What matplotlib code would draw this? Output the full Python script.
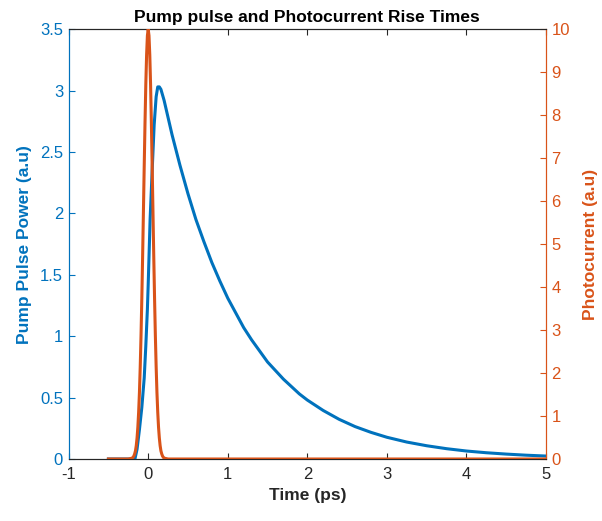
import matplotlib
matplotlib.use("Agg")
import matplotlib.pyplot as plt

plt.rcParams['font.family'] = ['Liberation Sans', 'DejaVu Sans']

# Blue series (left axis): Pump pulse power (a.u)
t_blue = [-0.5, -0.2, -0.165, -0.14, -0.11, -0.08, -0.05, -0.03, -0.01, 0.0, 0.024, 0.05,
          0.075, 0.1, 0.12, 0.14, 0.16, 0.2, 0.3, 0.4, 0.5, 0.6, 0.7, 0.8, 0.9,
          1.0, 1.1, 1.2, 1.3, 1.4, 1.5, 1.6, 1.7, 1.8, 1.9, 2.0, 2.2, 2.4, 2.6,
          2.8, 3.0, 3.25, 3.5, 3.75, 4.0, 4.25, 4.5, 4.75, 5.0]
p_blue = [0.0, 0.0, 0.005, 0.08, 0.24, 0.42, 0.66, 0.92, 1.22, 1.42, 1.95, 2.35,
          2.72, 2.95, 3.03, 3.03, 3.01, 2.92, 2.64, 2.39, 2.16, 1.95, 1.77, 1.60, 1.45,
          1.31, 1.19, 1.07, 0.97, 0.88, 0.79, 0.72, 0.65, 0.59, 0.53, 0.48, 0.395, 0.323, 0.264,
          0.217, 0.177, 0.138, 0.108, 0.084, 0.065, 0.051, 0.040, 0.031, 0.024]

# Orange series (right axis): Photocurrent (a.u)
t_orange = [-0.5, -0.25, -0.2, -0.19, -0.18, -0.17, -0.16, -0.15, -0.14, -0.13, -0.12,
            -0.11, -0.1, -0.09, -0.08, -0.07, -0.06, -0.05, -0.04, -0.03, -0.02, -0.01,
            0.0, 0.01, 0.02, 0.03, 0.04, 0.05, 0.06, 0.07, 0.08, 0.09, 0.1, 0.11, 0.12,
            0.13, 0.14, 0.15, 0.16, 0.17, 0.18, 0.19, 0.2, 0.25, 5.0]
c_orange = [0.0, 0.0, 0.02, 0.04, 0.07, 0.12, 0.19, 0.31, 0.49, 0.74, 1.09,
            1.55, 2.15, 2.88, 3.74, 4.71, 5.75, 6.81, 7.82, 8.71, 9.40, 9.85,
            10.0, 9.85, 9.40, 8.71, 7.82, 6.81, 5.75, 4.71, 3.74, 2.88, 2.15, 1.55, 1.09,
            0.74, 0.49, 0.31, 0.19, 0.12, 0.07, 0.04, 0.02, 0.0, 0.0]

x_ticks = [-1, 0, 1, 2, 3, 4, 5]
left_ticks = [0, 0.5, 1, 1.5, 2, 2.5, 3, 3.5]
left_labels = ['0', '0.5', '1', '1.5', '2', '2.5', '3', '3.5']
right_ticks = list(range(0, 11))

BLUE = '#0072BD'
ORANGE = '#D95319'
GRAY = '#262626'

fig = plt.figure(figsize=(6.02, 5.21), dpi=100)
ax = fig.add_axes([0.114, 0.119, 0.793, 0.825])
ax2 = ax.twinx()

ax.plot(t_blue, p_blue, color=BLUE, lw=2.2, zorder=3)
ax2.plot(t_orange, c_orange, color=ORANGE, lw=2.2, zorder=3)

ax.set_xlim(-1, 5)
ax.set_ylim(0, 3.5)
ax2.set_ylim(0, 10)

ax.set_xticks(x_ticks)
ax.set_xticklabels([str(v) for v in x_ticks])
ax.set_yticks(left_ticks)
ax.set_yticklabels(left_labels)
ax2.set_yticks(right_ticks)
ax2.set_yticklabels([str(v) for v in right_ticks])

fs = 12
ax.tick_params(axis='x', direction='in', length=4, colors=GRAY, labelsize=fs, top=True, pad=6)
ax.tick_params(axis='y', direction='in', length=4, colors=BLUE, labelsize=fs, pad=4)
ax2.tick_params(axis='y', direction='in', length=4, colors=ORANGE, labelsize=fs, pad=4)

for a in (ax, ax2):
    a.spines['top'].set_color(GRAY)
    a.spines['bottom'].set_color(GRAY)
    a.spines['left'].set_color(BLUE)
    a.spines['right'].set_color(ORANGE)
    for s in a.spines.values():
        s.set_linewidth(0.8)

ax.set_xlabel('Time (ps)', fontsize=12.5, fontweight='bold', color=GRAY, labelpad=4)
ax.set_ylabel('Pump Pulse Power (a.u)', fontsize=12.5, fontweight='bold', color=BLUE, labelpad=6)
ax2.set_ylabel('Photocurrent (a.u)', fontsize=12.5, fontweight='bold', color=ORANGE,
               rotation=90, va='center', ha='center')
ax2.yaxis.set_label_coords(1.093, 0.5)
ax.set_title('Pump pulse and Photocurrent Rise Times', fontsize=12.5, fontweight='bold', color='black', pad=5)

fig.savefig('out.png', dpi=100)
